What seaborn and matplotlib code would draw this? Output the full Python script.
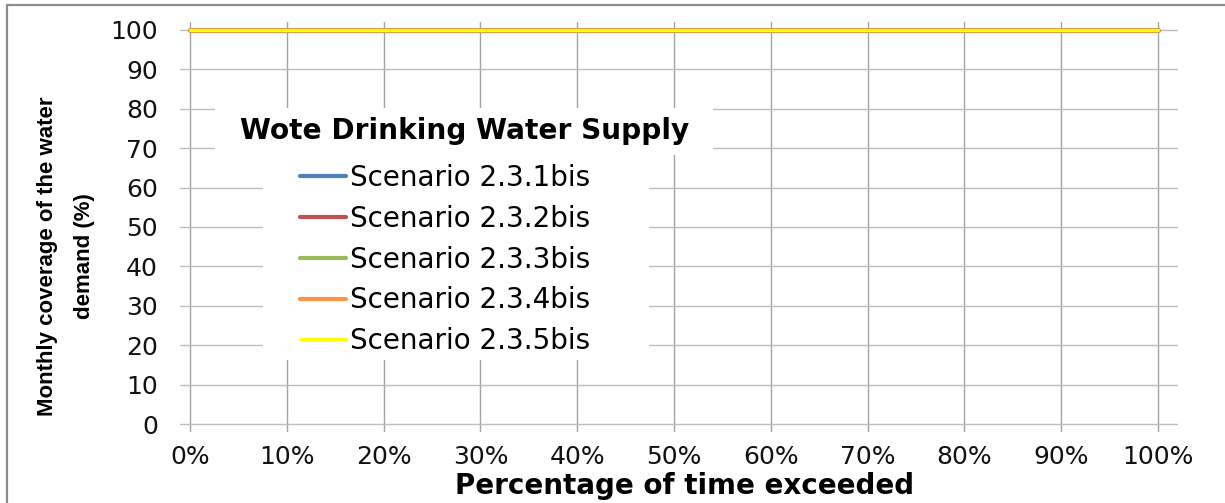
import numpy as np
import pandas as pd
import matplotlib
matplotlib.use("Agg")
import matplotlib.pyplot as plt
from matplotlib.patches import Rectangle
from matplotlib.lines import Line2D
from matplotlib.ticker import PercentFormatter, MultipleLocator
import seaborn as sns

# ---- data ----
pct_exceeded = [0.0, 0.1, 0.2, 0.3, 0.4, 0.5, 0.6, 0.7, 0.8, 0.9, 1.0]
scen_231 = [100, 100, 100, 100, 100, 100, 100, 100, 100, 100, 100]
scen_232 = [100, 100, 100, 100, 100, 100, 100, 100, 100, 100, 100]
scen_233 = [100, 100, 100, 100, 100, 100, 100, 100, 100, 100, 100]
scen_234 = [100, 100, 100, 100, 100, 100, 100, 100, 100, 100, 100]
scen_235 = [100, 100, 100, 100, 100, 100, 100, 100, 100, 100, 100]
scenario_names = ["Scenario 2.3.1bis", "Scenario 2.3.2bis", "Scenario 2.3.3bis",
                  "Scenario 2.3.4bis", "Scenario 2.3.5bis"]
colors = ["#4F81BD", "#C0504D", "#9BBB59", "#F79646", "#FFFF00"]
legend_title = "Wote Drinking Water Supply"
x_label = "Percentage of time exceeded"
y_label = "Monthly coverage of the water\ndemand (%)"

series = [scen_231, scen_232, scen_233, scen_234, scen_235]
df = pd.concat([pd.DataFrame({"pct": pct_exceeded, "coverage": s, "scenario": n})
                for s, n in zip(series, scenario_names)], ignore_index=True)

sns.set_theme(style="white")
plt.rcParams["font.family"] = ["DejaVu Sans"]

W, H = 1225, 503
fig = plt.figure(figsize=(W / 100, H / 100), dpi=100)
fig.patch.set_facecolor("white")

def fx(px):
    return px / W

def fy(py):
    return 1 - py / H

ax = fig.add_axes([fx(180), fy(432), fx(1178) - fx(180), fy(22) - fy(432)])
ax.set_facecolor("white")

palette = dict(zip(scenario_names, colors))
widths = {n: 3.3 for n in scenario_names}
widths[scenario_names[-1]] = 2.2
for n in scenario_names:
    sub = df[df["scenario"] == n]
    sns.lineplot(data=sub, x="pct", y="coverage", color=palette[n], ax=ax,
                 linewidth=widths[n], legend=False, zorder=3)

ax.set_xlim(-10 / 968, 1 + 20 / 968)
ax.set_ylim(-8 / 3.94, 100 + 8 / 3.94)
ax.xaxis.set_major_locator(MultipleLocator(0.1))
ax.yaxis.set_major_locator(MultipleLocator(10))
ax.xaxis.set_major_formatter(PercentFormatter(xmax=1, decimals=0))
ax.set_axisbelow(True)
ax.xaxis.grid(True, color="#a3a3a3", linewidth=1.0)
ax.yaxis.grid(True, color="#bdbdbd", linewidth=1.0)
for sp in ax.spines.values():
    sp.set_visible(False)
ax.tick_params(axis="both", length=0, labelsize=18, colors="#111111")
ax.tick_params(axis="y", pad=16)
ax.tick_params(axis="x", pad=9)

ax.set_xlabel(x_label, fontsize=20, fontweight="bold", color="black")
ax.xaxis.set_label_coords((685 - 180) / 998, (432 - 486) / 410)
ax.xaxis.label.set_va("center")

ax.set_ylabel(y_label, fontsize=16, fontweight="bold", color="black",
              family=["Liberation Sans", "DejaVu Sans"], linespacing=2.05)
ax.yaxis.set_label_coords((66 - 180) / 998, (432 - 256) / 410)
ax.yaxis.label.set_va("center")
ax.yaxis.label.set_ha("center")

# white legend cut-outs (like Excel legend and title box)
ax.add_patch(Rectangle((fx(215), fy(155)), fx(713) - fx(215), fy(108) - fy(155),
                       transform=fig.transFigure, facecolor="white", edgecolor="none", zorder=1))
ax.add_patch(Rectangle((fx(263), fy(360)), fx(649) - fx(263), fy(155) - fy(360),
                       transform=fig.transFigure, facecolor="white", edgecolor="none", zorder=1))

fig.text(fx(465), fy(131), legend_title, fontsize=20.2, fontweight="bold",
         ha="center", va="center", color="black")

handles = [Line2D([0], [0], color=c, linewidth=(3.0 if i < 4 else 2.2))
           for i, c in enumerate(colors)]
leg = ax.legend(handles, scenario_names, loc="upper left",
                bbox_to_anchor=(fx(300), fy(164)), bbox_transform=fig.transFigure,
                frameon=False, fontsize=20, handlelength=1.65, handletextpad=0.14,
                borderpad=0, borderaxespad=0, labelspacing=0.46)
for t in leg.get_texts():
    t.set_color("black")

# outer chart border
fig.patches.append(Rectangle((fx(7), fy(520)), 1.2, fy(5) - fy(520),
                             transform=fig.transFigure, facecolor="none",
                             edgecolor="#8c8c8c", linewidth=1.6, figure=fig))

fig.savefig("out.png", dpi=100)
